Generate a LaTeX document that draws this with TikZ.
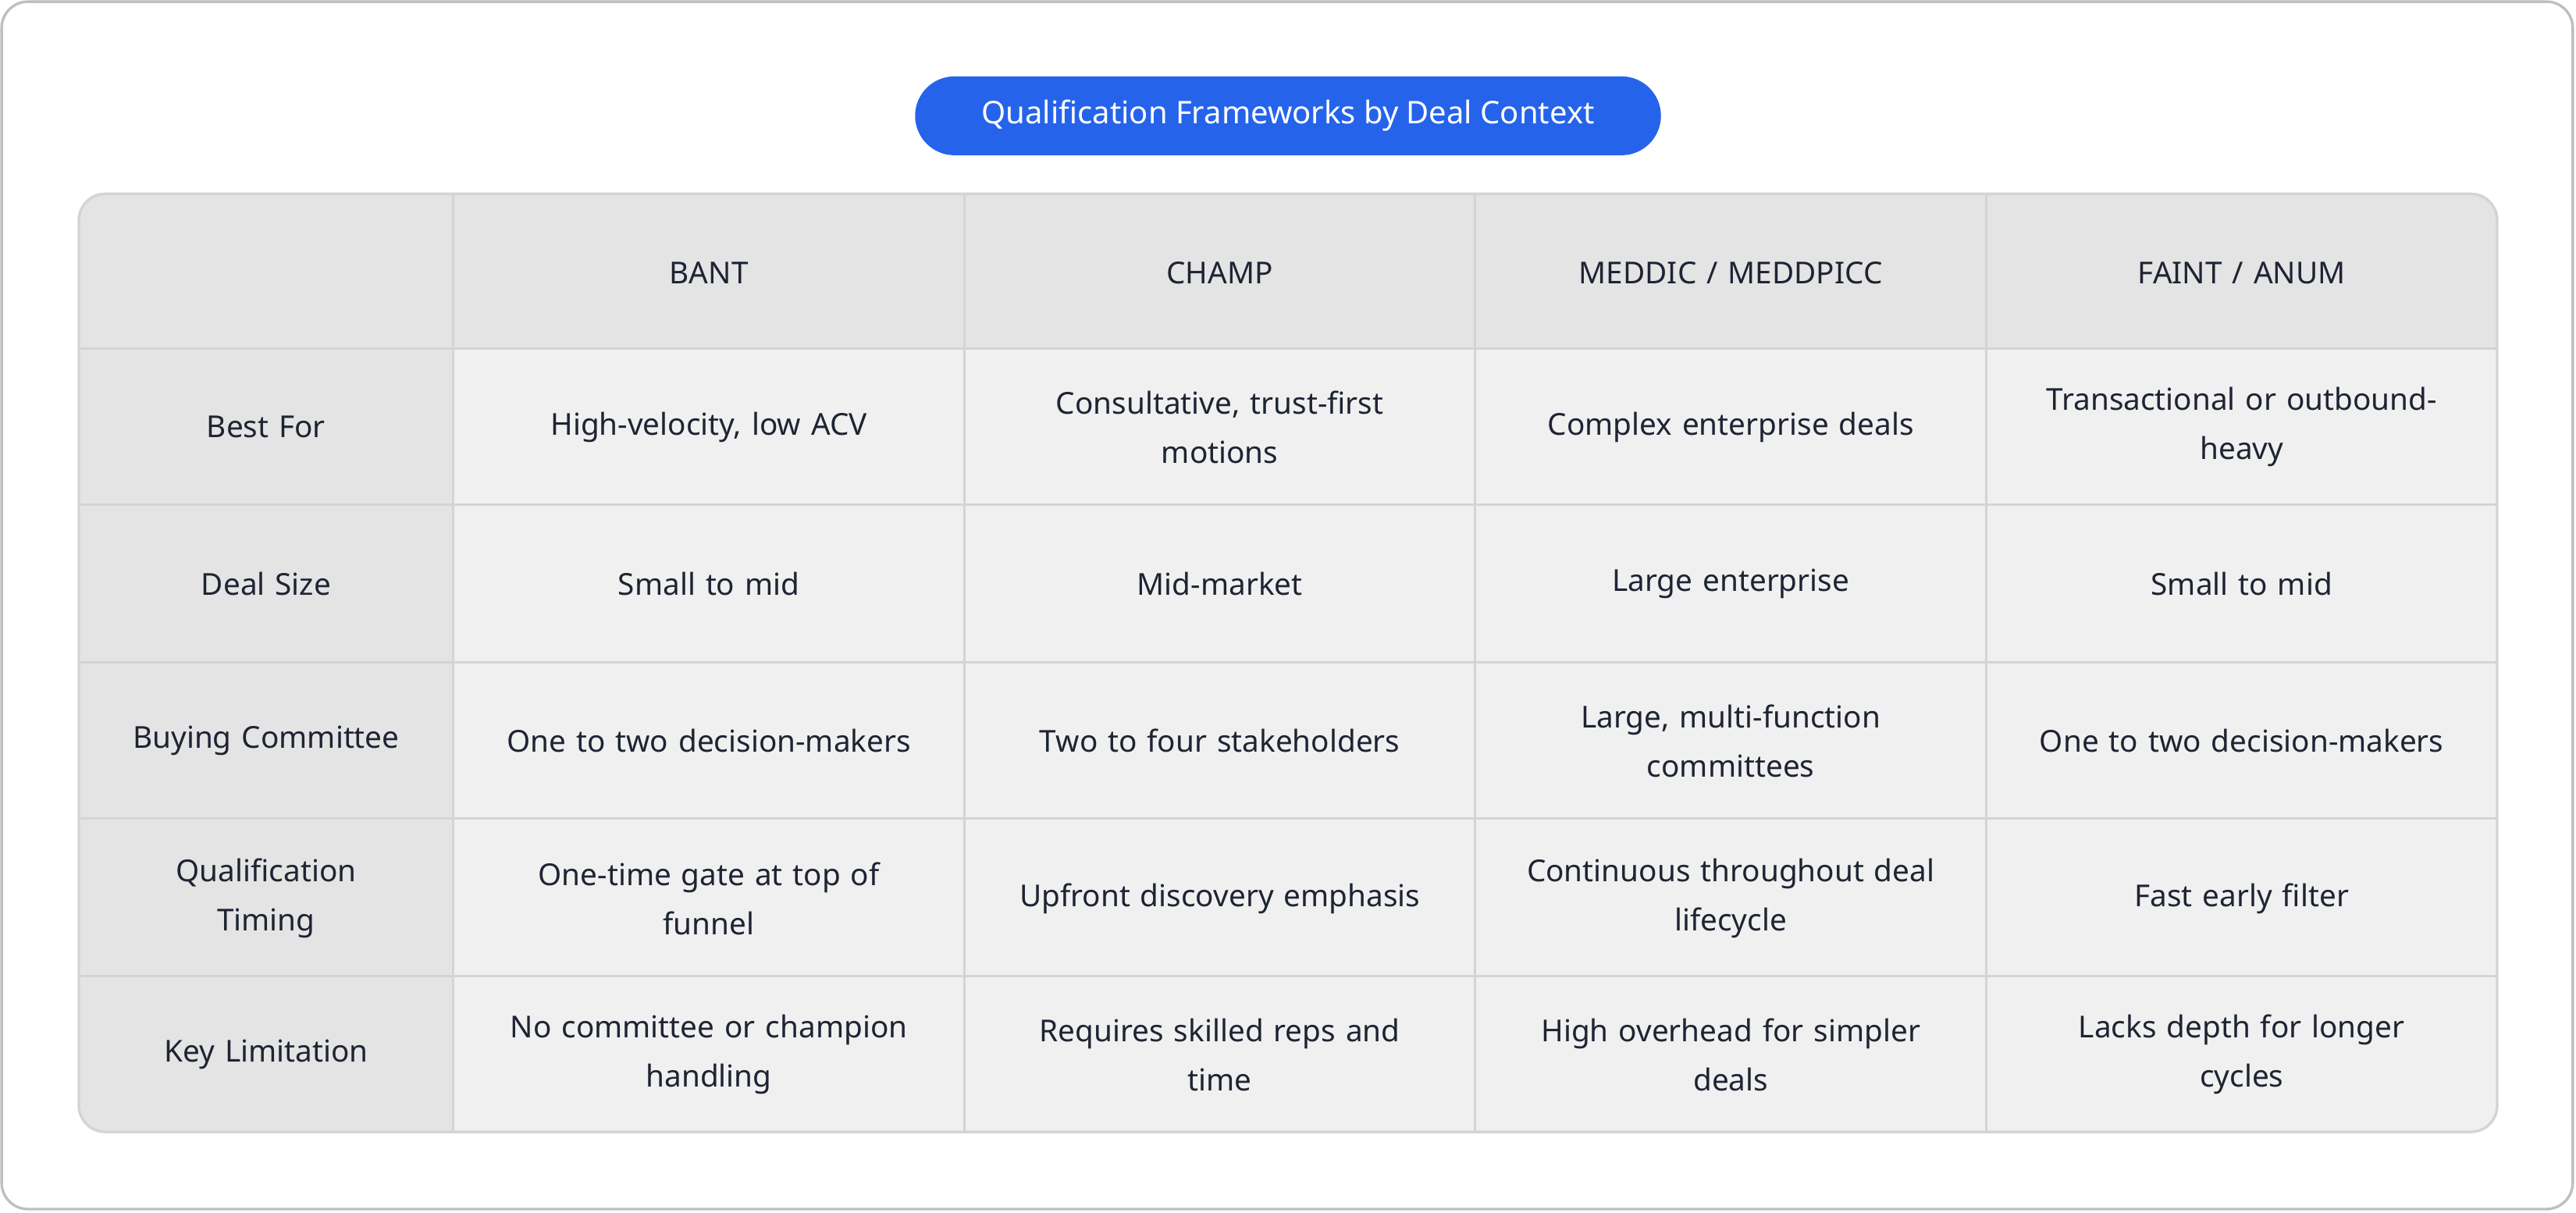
\documentclass[tikz,border=0pt]{standalone}
\usepackage{fontspec}
\setmainfont{Noto Sans}
\begin{document}
\definecolor{hdr}{HTML}{E4E4E4}
\definecolor{cell}{HTML}{F0F0F0}
\definecolor{grid}{HTML}{D4D4D4}
\definecolor{ink}{HTML}{1E2433}
\definecolor{pill}{HTML}{2563EB}
\begin{tikzpicture}[x=0.5pt,y=-0.5pt,
  txt/.style={font=\fontsize{9.2}{15}\selectfont, text=ink, align=center, text width=132pt, inner sep=0pt},
  bold/.style={txt, font=\fontsize{9.2}{15}\selectfont\bfseries}]
\useasboundingbox (0,0) rectangle (1568,738);
\draw[grid!90!black, line width=0.8pt, rounded corners=8pt] (1,1) rectangle (1566,736);
\node[fill=pill, rounded corners=12pt, minimum width=227pt, minimum height=24pt, text=white, font=\fontsize{9.5}{12}\selectfont\bfseries] (title) at (784,70.5) {Qualification Frameworks by Deal Context};
\begin{scope}
\clip[rounded corners=8pt] (48,118) rectangle (1520,689);
\fill[cell] (48,118) rectangle (1520,689);
\fill[hdr] (48,118) rectangle (1520,212);
\fill[hdr] (48,118) rectangle (276,689);
\foreach \x in {276,587,898,1209} \draw[grid, line width=0.7pt] (\x,118) -- (\x,689);
\foreach \y in {212,307,403,498,594} \draw[grid, line width=0.7pt] (48,\y) -- (1520,\y);
\end{scope}
\draw[grid, line width=0.8pt, rounded corners=8pt] (48,118) rectangle (1520,689);
% header
\node[bold] (h1) at (431.5,166) {BANT};
\node[bold] (h2) at (742.5,166) {CHAMP};
\node[bold] (h3) at (1053.5,166) {MEDDIC / MEDDPICC};
\node[bold] (h4) at (1364.5,166) {FAINT / ANUM};
% row labels
\node[bold,text width=105pt] (r1) at (162,260) {Best For};
\node[bold,text width=105pt] (r2) at (162,355.5) {Deal Size};
\node[bold,text width=105pt] (r3) at (162,451) {Buying Committee};
\node[bold,text width=105pt] (r4) at (162,547) {Qualification\\Timing};
\node[bold,text width=105pt] (r5) at (162,642) {Key Limitation};
% cells
\node[txt] (c11) at (431.5,260) {High-velocity, low ACV};
\node[txt] (c12) at (742.5,260) {Consultative, trust-first\\motions};
\node[txt] (c13) at (1053.5,260) {Complex enterprise deals};
\node[txt] (c14) at (1364.5,260) {Transactional or outbound-\\heavy};
\node[txt] (c21) at (431.5,355.5) {Small to mid};
\node[txt] (c22) at (742.5,355.5) {Mid-market};
\node[txt] (c23) at (1053.5,355.5) {Large enterprise};
\node[txt] (c24) at (1364.5,355.5) {Small to mid};
\node[txt] (c31) at (431.5,451) {One to two decision-makers};
\node[txt] (c32) at (742.5,451) {Two to four stakeholders};
\node[txt] (c33) at (1053.5,451) {Large, multi-function\\committees};
\node[txt] (c34) at (1364.5,451) {One to two decision-makers};
\node[txt] (c41) at (431.5,547) {One-time gate at top of\\funnel};
\node[txt] (c42) at (742.5,547) {Upfront discovery emphasis};
\node[txt] (c43) at (1053.5,547) {Continuous throughout deal\\lifecycle};
\node[txt] (c44) at (1364.5,547) {Fast early filter};
\node[txt] (c51) at (431.5,642) {No committee or champion\\handling};
\node[txt] (c52) at (742.5,642) {Requires skilled reps and\\time};
\node[txt] (c53) at (1053.5,642) {High overhead for simpler\\deals};
\node[txt] (c54) at (1364.5,642) {Lacks depth for longer\\cycles};
\end{tikzpicture}
\end{document}
